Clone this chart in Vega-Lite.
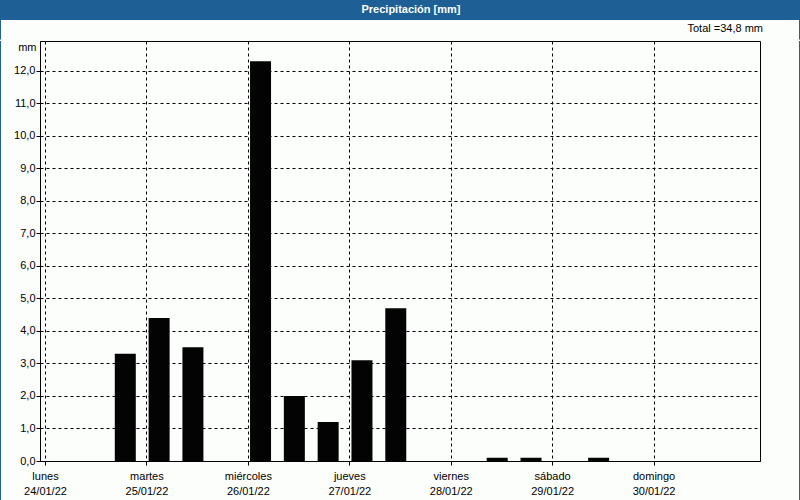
{
  "$schema": "https://vega.github.io/schema/vega-lite/v6.json",
  "background": "#fcfefc",
  "padding": 0,
  "spacing": 0,
  "bounds": "full",
  "config": {
    "view": {"stroke": null},
    "font": "Liberation Sans",
    "axis": {"labelFont": "Liberation Sans", "titleFont": "Liberation Sans"}
  },
  "vconcat": [
    {
      "spacing": 0,
      "bounds": "flush",
      "hconcat": [
        {
          "width": 1, "height": 39.5,
          "data": {"values": [{"part": "border"}]},
          "mark": {"type": "rect", "color": "#1e6096"},
          "encoding": {}
        },
        {
          "width": 798,
          "height": 20,
          "view": {"fill": "#1e6096", "stroke": null},
          "title": {"text": "Total =34,8 mm", "orient": "bottom", "anchor": "end", "frame": "group", "fontSize": 11, "fontWeight": "normal", "color": "#000000", "offset": 3, "dx": -36, "font": "Liberation Sans"},
          "data": {"values": [{"label": "Precipitación [mm]"}]},
          "mark": {"type": "text", "color": "white", "fontWeight": "bold", "fontSize": 11, "dx": 11, "baseline": "middle", "font": "Liberation Sans"},
          "encoding": {"text": {"field": "label"}}
        },
        {
          "width": 1, "height": 39.5,
          "data": {"values": [{"part": "border"}]},
          "mark": {"type": "rect", "color": "#1e6096"},
          "encoding": {}
        }
      ]
    },
    {
      "spacing": 39,
      "bounds": "flush",
      "hconcat": [
        {
          "width": 1, "height": 459.5,
          "data": {"values": [{"part": "border"}]},
          "mark": {"type": "rect", "color": "#1e6096"},
          "encoding": {}
        },
        {
          "width": 720,
          "height": 420,
          "view": {"stroke": "#000000", "strokeWidth": 1},
          "data": {"values": [
            {"t": "2022-01-24T03:00:00", "mm": 0},
            {"t": "2022-01-24T11:00:00", "mm": 0},
            {"t": "2022-01-24T19:00:00", "mm": 3.3},
            {"t": "2022-01-25T03:00:00", "mm": 4.4},
            {"t": "2022-01-25T11:00:00", "mm": 3.5},
            {"t": "2022-01-25T19:00:00", "mm": 0},
            {"t": "2022-01-26T03:00:00", "mm": 12.3},
            {"t": "2022-01-26T11:00:00", "mm": 2.0},
            {"t": "2022-01-26T19:00:00", "mm": 1.2},
            {"t": "2022-01-27T03:00:00", "mm": 3.1},
            {"t": "2022-01-27T11:00:00", "mm": 4.7},
            {"t": "2022-01-27T19:00:00", "mm": 0},
            {"t": "2022-01-28T03:00:00", "mm": 0},
            {"t": "2022-01-28T11:00:00", "mm": 0.1},
            {"t": "2022-01-28T19:00:00", "mm": 0.1},
            {"t": "2022-01-29T03:00:00", "mm": 0},
            {"t": "2022-01-29T11:00:00", "mm": 0.1},
            {"t": "2022-01-29T19:00:00", "mm": 0},
            {"t": "2022-01-30T03:00:00", "mm": 0},
            {"t": "2022-01-30T11:00:00", "mm": 0},
            {"t": "2022-01-30T19:00:00", "mm": 0}
          ]},
          "mark": {"type": "bar", "color": "#030303", "size": 21},
          "encoding": {
            "x": {
              "field": "t",
              "type": "temporal",
              "scale": {"domain": [{"year": 2022, "month": 1, "date": 24}, {"year": 2022, "month": 1, "date": 31}], "nice": false},
              "axis": {
                "title": null,
                "values": [
                  {"year": 2022, "month": 1, "date": 24},
                  {"year": 2022, "month": 1, "date": 25},
                  {"year": 2022, "month": 1, "date": 26},
                  {"year": 2022, "month": 1, "date": 27},
                  {"year": 2022, "month": 1, "date": 28},
                  {"year": 2022, "month": 1, "date": 29},
                  {"year": 2022, "month": 1, "date": 30}
                ],
                "labelExpr": "[['domingo','lunes','martes','miércoles','jueves','viernes','sábado'][day(datum.value)], timeFormat(datum.value, '%d/%m/%y')]",
                "labelAlign": "center",
                "labelBaseline": "top",
                "labelLineHeight": 15,
                "labelPadding": 5,
                "labelFontSize": 11,
                "labelColor": "#000000",
                "labelFlush": false,
                "labelOverlap": false,
                "domainColor": "#000000",
                "tickColor": "#000000",
                "tickSize": 4,
                "grid": true,
                "gridColor": "#000000",
                "gridOpacity": 1,
                "gridDash": [3, 3]
              }
            },
            "y": {
              "field": "mm",
              "type": "quantitative",
              "scale": {"domain": [0, 12.92], "nice": false},
              "axis": {
                "title": "mm",
                "titleAngle": 0,
                "titleAlign": "right",
                "titleBaseline": "middle",
                "titleX": -4,
                "titleY": 6,
                "titleFontSize": 11,
                "titleFontWeight": "normal",
                "titleColor": "#000000",
                "values": [0, 1, 2, 3, 4, 5, 6, 7, 8, 9, 10, 11, 12],
                "labelExpr": "replace(format(datum.value, '.1f'), '.', ',')",
                "labelFontSize": 11,
                "labelColor": "#000000",
                "labelPadding": 1,
                "labelFlush": false,
                "labelOverlap": false,
                "domainColor": "#000000",
                "tickColor": "#000000",
                "tickSize": 4,
                "grid": true,
                "gridColor": "#000000",
                "gridOpacity": 1,
                "gridDash": [3, 3]
              }
            }
          }
        },
        {
          "width": 1, "height": 459.5,
          "data": {"values": [{"part": "border"}]},
          "mark": {"type": "rect", "color": "#1e6096"},
          "encoding": {}
        }
      ]
    },
    {
      "width": 800, "height": 1,
      "data": {"values": [{"part": "border"}]},
      "mark": {"type": "rect", "color": "#1e6096"},
      "encoding": {}
    }
  ]
}
